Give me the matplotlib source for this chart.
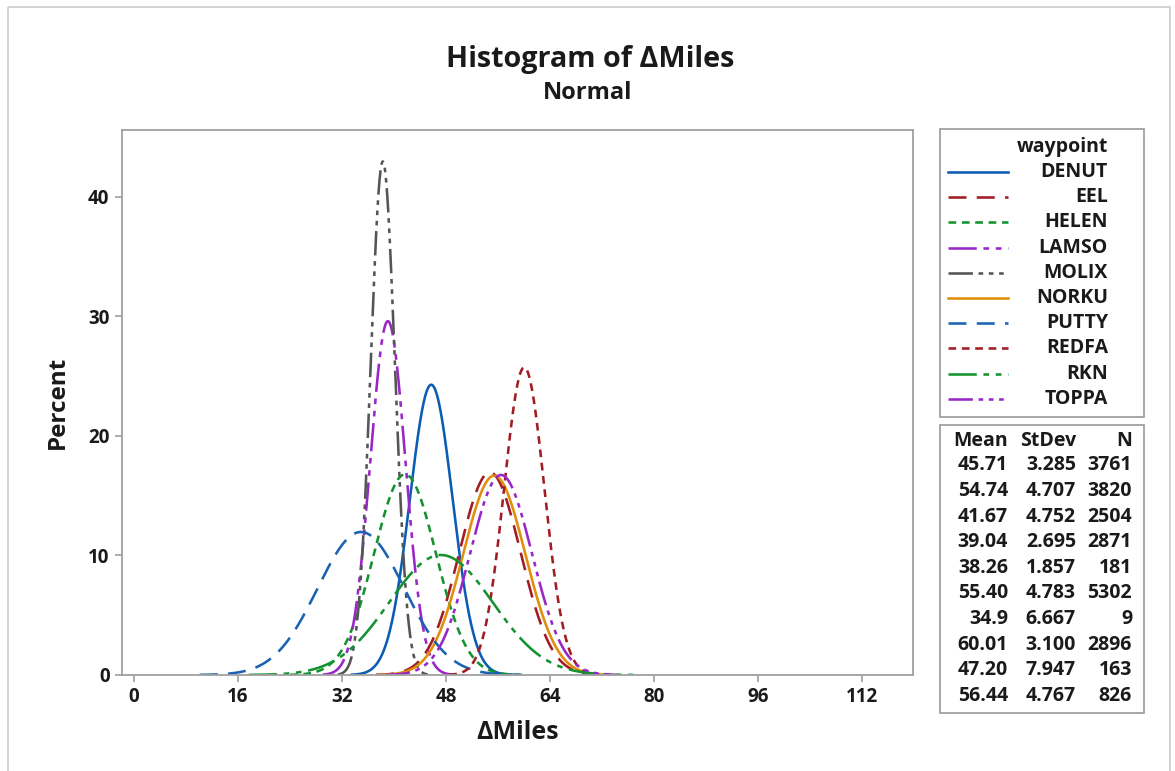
import numpy as np
import matplotlib
matplotlib.use("Agg")
import matplotlib.pyplot as plt
from matplotlib.patches import Rectangle
from matplotlib.lines import Line2D

# ---- data ----
waypoints = ["DENUT", "EEL", "HELEN", "LAMSO", "MOLIX", "NORKU", "PUTTY", "REDFA", "RKN", "TOPPA"]
means = [45.71, 54.74, 41.67, 39.04, 38.26, 55.40, 34.9, 60.01, 47.20, 56.44]
stdevs = [3.285, 4.707, 4.752, 2.695, 1.857, 4.783, 6.667, 3.100, 7.947, 4.767]
counts = [3761, 3820, 2504, 2871, 181, 5302, 9, 2896, 163, 826]
mean_labels = ["45.71", "54.74", "41.67", "39.04", "38.26", "55.40", "34.9", "60.01", "47.20", "56.44"]
sd_labels = ["3.285", "4.707", "4.752", "2.695", "1.857", "4.783", "6.667", "3.100", "7.947", "4.767"]
bin_width = 2.0
x_ticks = [0, 16, 32, 48, 64, 80, 96, 112]
y_ticks = [0, 10, 20, 30, 40]

# ---- styles ----
colors = ["#0b5cb5", "#a21c24", "#13922f", "#9a26c8", "#555555",
          "#e08e0b", "#1b62b3", "#a21c24", "#13922f", "#9a26c8"]
ls_long = (0, (7, 4))
ls_short = (0, (3, 2.2))
ls_dd = (0, (11, 2.6, 2.2, 2.6, 2.2, 2.6))
ls_ddd = (0, (9.5, 2.2, 1.8, 2.2, 1.8, 2.2, 1.8, 2.2))
styles = ["-", ls_long, ls_short, ls_dd, ls_ddd, "-", ls_long, ls_short, ls_dd, ls_ddd]
LW = 1.85

FONT = "Open Sans"
plt.rcParams['font.family'] = [FONT, 'DejaVu Sans']
TXT = "#1a1a1a"
WT = 'bold'

W, H = 1175, 771
fig = plt.figure(figsize=(W / 100, H / 100), dpi=100)

def fx(px):
    return px / W

def fy(py):
    return 1 - py / H

L, T, R, B = 122, 130, 913, 675
ax = fig.add_axes([fx(L), fy(B), fx(R - L), fy(T) - fy(B)])
spine_c = "#a0a0a0"
for s in ax.spines.values():
    s.set_color(spine_c)
    s.set_linewidth(1.3)

for m, s, c, st in zip(means, stdevs, colors, styles):
    xs = np.linspace(m - 3.72 * s, m + 3.72 * s, 400)
    ys = 100 * bin_width * np.exp(-0.5 * ((xs - m) / s) ** 2) / (s * np.sqrt(2 * np.pi))
    ax.plot(xs, ys, color=c, linestyle=st, linewidth=LW)

ax.set_xlim(-1.85, 119.8)
ax.set_ylim(0, 45.6)
ax.set_xticks(x_ticks)
ax.set_yticks(y_ticks)
ax.tick_params(axis='both', direction='out', length=5, width=1.2, color=spine_c,
               labelsize=13.5, labelcolor=TXT, pad=4)
for lab in ax.get_xticklabels() + ax.get_yticklabels():
    lab.set_fontweight(WT)
ax.set_xlabel("ΔMiles", fontsize=18, fontweight=WT, color=TXT, labelpad=9)
ax.set_ylabel("Percent", fontsize=17.5, fontweight=WT, color=TXT, labelpad=13)

# ---- overlay in pixel coordinates ----
ov = fig.add_axes([0, 0, 1, 1], facecolor='none')
ov.set_xlim(0, W)
ov.set_ylim(H, 0)
ov.axis('off')

ov.add_patch(Rectangle((8, 7), 1162, 800, fill=False, edgecolor="#d0d0d0", linewidth=1.3))

ov.text(590, 60, "Histogram of ΔMiles", ha='center', va='center', fontsize=20.7,
        fontweight=WT, color=TXT)
ov.text(588, 93, "Normal", ha='center', va='center', fontsize=17,
        fontweight=WT, color=TXT)

FS = 14
# legend box
ov.add_patch(Rectangle((940, 129), 204, 288, fill=False, edgecolor=spine_c, linewidth=1.3))
ov.text(1108, 147, "waypoint", ha='right', va='center', fontsize=FS,
        fontweight=WT, color=TXT)
for i, (name, c, st) in enumerate(zip(waypoints, colors, styles)):
    y = 172 + i * 25.2
    ov.add_line(Line2D([948, 1008], [y, y], color=c, linestyle=st, linewidth=LW))
    ov.text(1108, y, name, ha='right', va='center', fontsize=FS,
            fontweight=WT, color=TXT)

# stats table
ov.add_patch(Rectangle((940, 425), 204, 288, fill=False, edgecolor=spine_c, linewidth=1.3))
hdr_y = 441
for xpos, txt in zip([1008, 1076, 1132], ["Mean", "StDev", "N"]):
    ov.text(xpos, hdr_y, txt, ha='right', va='center', fontsize=FS,
            fontweight=WT, color=TXT)
for i in range(len(waypoints)):
    y = 465.5 + i * 25.6
    ov.text(1008, y, mean_labels[i], ha='right', va='center', fontsize=FS,
            fontweight=WT, color=TXT)
    ov.text(1076, y, sd_labels[i], ha='right', va='center', fontsize=FS,
            fontweight=WT, color=TXT)
    ov.text(1132, y, str(counts[i]), ha='right', va='center', fontsize=FS,
            fontweight=WT, color=TXT)

fig.savefig("out.png", dpi=100)
